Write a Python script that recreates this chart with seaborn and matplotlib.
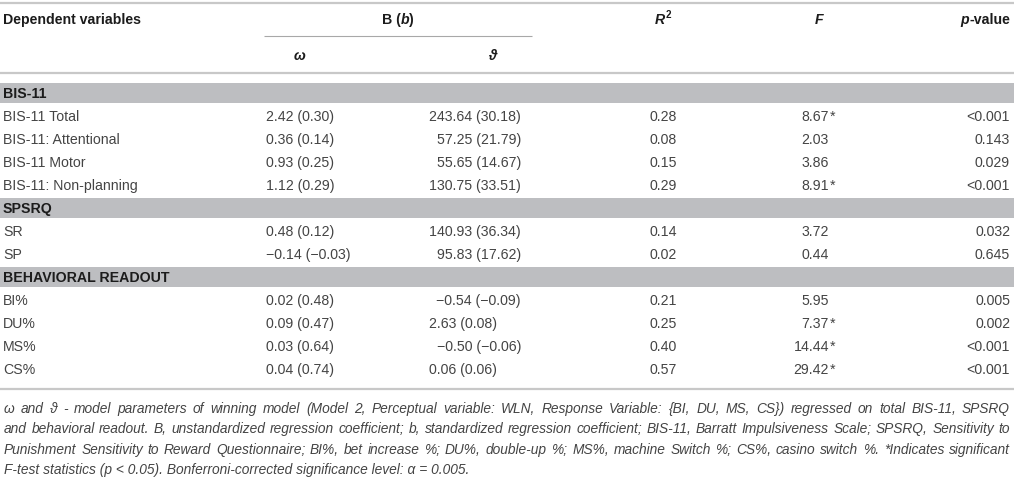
import matplotlib
matplotlib.use('Agg')
import matplotlib.pyplot as plt
from matplotlib import font_manager
import seaborn as sns

# table content
section_names = ['BIS-11', 'SPSRQ', 'BEHAVIORAL READOUT']
section_sizes = [4, 2, 4]
row_labels = ['BIS-11 Total', 'BIS-11: Attentional', 'BIS-11 Motor',
              'BIS-11: Non-planning', 'SR', 'SP', 'BI%', 'DU%', 'MS%', 'CS%']
omega_B = [2.42, 0.36, 0.93, 1.12, 0.48, -0.14, 0.02, 0.09, 0.03, 0.04]
omega_b = [0.30, 0.14, 0.25, 0.29, 0.12, -0.03, 0.48, 0.47, 0.64, 0.74]
theta_B = [243.64, 57.25, 55.65, 130.75, 140.93, 95.83, -0.54, 2.63, -0.50, 0.06]
theta_b = [30.18, 21.79, 14.67, 33.51, 36.34, 17.62, -0.09, 0.08, -0.06, 0.06]
r_squared = [0.28, 0.08, 0.15, 0.29, 0.14, 0.02, 0.21, 0.25, 0.40, 0.57]
f_values = [8.67, 2.03, 3.86, 8.91, 3.72, 0.44, 5.95, 7.37, 14.44, 29.42]
f_significant = [True, False, False, True, False, False, False, True, True, True]
p_values = ['<0.001', '0.143', '0.029', '<0.001', '0.032', '0.645',
            '0.005', '0.002', '<0.001', '<0.001']

footnote_lines = [
    'ω and ϑ - model parameters of winning model (Model 2, Perceptual variable: WLN, '
    'Response Variable: {BI, DU, MS, CS}) regressed on total BIS-11, SPSRQ',
    'and behavioral readout. B, unstandardized regression coefficient; b, standardized '
    'regression coefficient; BIS-11, Barratt Impulsiveness Scale; SPSRQ, Sensitivity to',
    'Punishment Sensitivity to Reward Questionnaire; BI%, bet increase %; DU%, double-up %; '
    'MS%, machine Switch %; CS%, casino switch %. *Indicates significant',
    'F-test statistics (p < 0.05). Bonferroni-corrected significance level: α = 0.005.',
]

# layout (pixels)
W, H = 1014, 480
FS = 10.2
band_color = '#bdbec1'
rule_color = '#c8c8c8'
body_color = '#444444'
head_color = '#1c1c1c'
x_label = 3
x_omega = 266
x_theta_r = 521
x_theta_l = 429
x_r2 = 663
x_f = 829
x_p = 1010
theta_left_rows = {'DU%', 'CS%'}
first_y = 93
step = 23
note_y = [408, 428, 449, 469]


def has_font(name):
    try:
        font_manager.findfont(font_manager.FontProperties(family=name),
                              fallback_to_default=False)
        return True
    except ValueError:
        return False


def fmt(v):
    return f'{v:.2f}'.replace('-', '\u2212')


def draw_pieces(ax, renderer, x, y, pieces, ha='left'):
    texts = []
    for s, kw, dy in pieces:
        texts.append(ax.text(0, y + dy, s, va='baseline', **kw))
    widths = [t.get_window_extent(renderer).width for t in texts]
    total = sum(widths)
    if ha == 'center':
        start = x - total / 2
    elif ha == 'right':
        start = x - total
    else:
        start = x
    for t, w in zip(texts, widths):
        t.set_x(start)
        start += w


def justify_line(ax, renderer, line, x0, x1, y, props):
    words = line.split(' ')
    texts = [ax.text(0, y, w, va='baseline', **props) for w in words]
    widths = [t.get_window_extent(renderer).width for t in texts]
    gap = (x1 - x0 - sum(widths)) / (len(words) - 1)
    x = x0
    for t, w in zip(texts, widths):
        t.set_x(x)
        x += w + gap


sns.set_theme(style='white')
body_family = ['Liberation Sans', 'DejaVu Sans']
plt.rcParams['font.family'] = body_family
note_family = ['Liberation Sans', 'DejaVu Sans']
for cand in ['Liberation Sans Narrow', 'DejaVu Sans Condensed']:
    if has_font(cand):
        note_family = [cand, 'DejaVu Sans']
        break

fig = plt.figure(figsize=(W / 100, H / 100), dpi=100)
ax = fig.add_axes([0, 0, 1, 1])
ax.set_xlim(0, W)
ax.set_ylim(H, 0)
ax.axis('off')
renderer = fig.canvas.get_renderer()

# footnote size: the widest full line fills the text width with plain spaces
probe = [ax.text(0, 0, s, fontsize=10, style='italic', family=note_family)
         for s in footnote_lines[:-1]]
widest = max(t.get_window_extent(renderer).width for t in probe)
for t in probe:
    t.remove()
note_fs = min(11.0, 10 * 1004 / widest)

body = dict(fontsize=FS, color=body_color, family=body_family)
bold = dict(fontsize=FS, color=head_color, weight='bold', family=body_family)
bold_it = dict(bold, style='italic')
base = 5  # baseline offset from row centre

# rules
ax.hlines([3, 73, 389], 0, W, color=rule_color, lw=1.6)
ax.hlines(36, 264, 532, color='#a8a8a8', lw=0.8)

# header
ax.text(x_label, 19 + base, 'Dependent variables', va='baseline', **bold)
draw_pieces(ax, renderer, 398, 19 + base,
            [('B (', bold, 0), ('b', bold_it, 0), (')', bold, 0)], ha='center')
draw_pieces(ax, renderer, x_r2, 19 + base,
            [('R', bold_it, 0), ('2', dict(bold, fontsize=FS * 0.7), -6)], ha='center')
ax.text(819, 19 + base, 'F', ha='center', va='baseline', **bold_it)
draw_pieces(ax, renderer, x_p, 19 + base,
            [('p', bold_it, 0), ('-value', bold, 0)], ha='right')
ax.text(299, 55 + base, 'ω', ha='center', va='baseline', **bold_it)
ax.text(492, 55 + base, 'ϑ', ha='center', va='baseline', **bold_it)

# body
y = first_y
i = 0
for name, size in zip(section_names, section_sizes):
    ax.axhspan(y - 10, y + 10, xmin=0, xmax=1, color=band_color, lw=0)
    ax.text(x_label, y + base, name, va='baseline', **bold)
    y += step
    for _ in range(size):
        yb = y + base
        ax.text(x_label, yb, row_labels[i], va='baseline', **body)
        ax.text(x_omega, yb, f'{fmt(omega_B[i])} ({fmt(omega_b[i])})', va='baseline', **body)
        theta_txt = f'{fmt(theta_B[i])} ({fmt(theta_b[i])})'
        if row_labels[i] in theta_left_rows:
            ax.text(x_theta_l, yb, theta_txt, ha='left', va='baseline', **body)
        else:
            ax.text(x_theta_r, yb, theta_txt, ha='right', va='baseline', **body)
        ax.text(x_r2, yb, f'{r_squared[i]:.2f}', ha='center', va='baseline', **body)
        ax.text(x_f, yb, f'{f_values[i]:.2f}', ha='right', va='baseline', **body)
        if f_significant[i]:
            ax.text(x_f + 1, yb, '*', ha='left', va='baseline', **body)
        ax.text(x_p, yb, p_values[i], ha='right', va='baseline', **body)
        y += step
        i += 1

# footnote
note = dict(fontsize=note_fs, color=body_color, style='italic', family=note_family)
for k, line in enumerate(footnote_lines):
    if k < len(footnote_lines) - 1:
        justify_line(ax, renderer, line, 4, 1010, note_y[k] + base, note)
    else:
        ax.text(4, note_y[k] + base, line, va='baseline', **note)

fig.savefig('out.png', dpi=100)
